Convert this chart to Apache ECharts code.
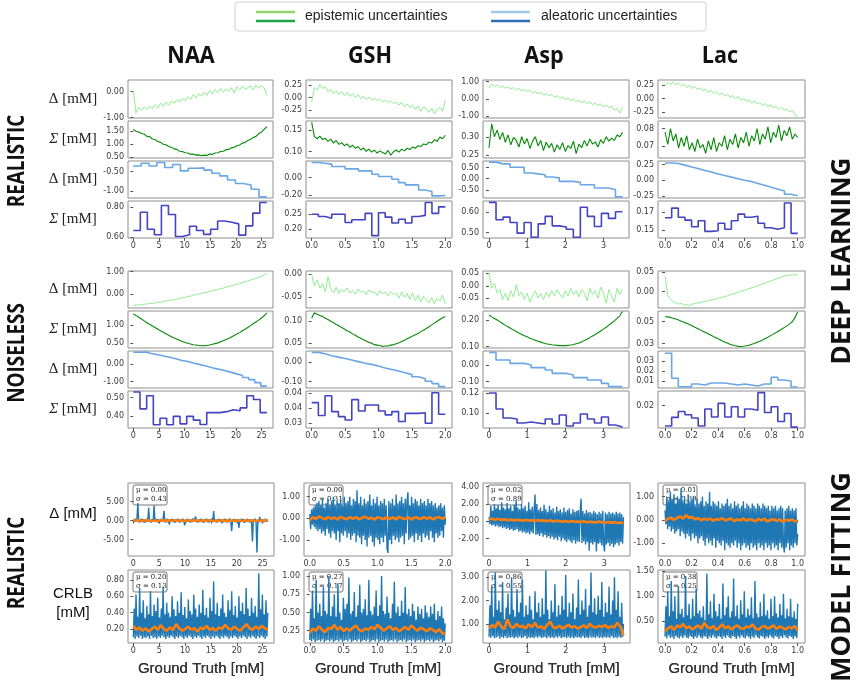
<!DOCTYPE html>
<html>
<head>
<meta charset="utf-8">
<script src="https://cdn.jsdelivr.net/npm/echarts@6/dist/echarts.min.js"></script>
<style>
html,body{margin:0;padding:0;background:#fff}
#chart{width:858px;height:687px}
</style>
</head>
<body>
<div id="chart"></div>
<script>
// ---- data ----
const metabolites = ['NAA', 'GSH', 'Asp', 'Lac'];
const gtMax = [26, 2, 3.5, 1];
const naaXTicks = [0, 5, 10, 15, 20, 25];
const gshXTicks = [0, 0.5, 1, 1.5, 2];
const aspXTicks = [0, 1, 2, 3];
const lacXTicks = [0, 0.2, 0.4, 0.6, 0.8, 1];

// deep learning, realistic
const naaRealEpiMean = [0.05,-0.82,-0.60,-0.72,-0.58,-0.68,-0.55,-0.66,-0.50,-0.62,-0.45,-0.56,-0.40,-0.52,-0.36,-0.45,-0.30,-0.40,-0.26,-0.35,-0.20,-0.30,-0.12,-0.25,-0.08,-0.18,-0.02,-0.15,0.05,-0.10,0.08,-0.05,0.12,-0.02,0.10,0.02,0.15,-0.06,0.18,0.05,0.20,0.08,0.14,0.22,0.05,0.25,0.12,0.22,0.15,-0.15];
const naaRealEpiStd = [1.55,1.49,1.46,1.40,1.37,1.29,1.28,1.19,1.17,1.09,1.06,0.99,0.97,0.90,0.87,0.81,0.79,0.72,0.71,0.66,0.65,0.60,0.61,0.57,0.58,0.55,0.57,0.56,0.61,0.60,0.65,0.66,0.71,0.72,0.78,0.79,0.85,0.87,0.93,0.96,1.03,1.06,1.13,1.17,1.25,1.29,1.39,1.45,1.56,1.66];
const naaRealAleMean = [-0.35,-0.28,-0.35,-0.26,-0.39,-0.31,-0.48,-0.41,-0.40,-0.46,-0.54,-0.61,-0.72,-0.81,-0.85,-0.96,-1.16];
const naaRealAleStd = [0.645,0.766,0.654,0.617,0.81,0.751,0.606,0.617,0.673,0.645,0.62,0.654,0.708,0.70,0.689,0.615,0.676,0.76,0.83];

const gshRealEpiMean = [-0.09,0.20,0.15,0.26,0.18,0.22,0.12,0.16,0.08,0.14,0.06,0.12,0.04,0.10,0.02,0.08,0.00,0.06,-0.02,0.03,-0.04,0.01,-0.05,-0.02,-0.06,-0.03,-0.09,-0.05,-0.10,-0.07,-0.12,-0.09,-0.15,-0.10,-0.18,-0.13,-0.20,-0.15,-0.24,-0.17,-0.28,-0.19,-0.22,-0.30,-0.21,-0.33,-0.24,-0.20,-0.28,-0.05];
const gshRealEpiStd = [0.168,0.135,0.130,0.136,0.128,0.131,0.124,0.129,0.120,0.126,0.117,0.121,0.114,0.118,0.110,0.115,0.108,0.112,0.104,0.109,0.101,0.106,0.099,0.104,0.097,0.102,0.098,0.095,0.103,0.092,0.100,0.104,0.099,0.106,0.102,0.108,0.105,0.111,0.108,0.114,0.112,0.118,0.116,0.122,0.120,0.128,0.124,0.134,0.130,0.138];
const gshRealAleMean = [0.173,0.165,0.154,0.127,0.127,0.10,0.10,0.077,0.077,0.039,0.012,0.012,-0.019,-0.058,-0.084,-0.084,-0.142,-0.16,-0.21,-0.205];
const gshRealAleStd = [0.25,0.242,0.236,0.25,0.25,0.222,0.231,0.231,0.253,0.177,0.255,0.24,0.22,0.233,0.22,0.242,0.246,0.29,0.253,0.275];

const aspRealEpiMean = [0.62,0.85,0.72,0.80,0.66,0.74,0.62,0.70,0.58,0.66,0.52,0.60,0.47,0.55,0.43,0.50,0.35,0.42,0.30,0.38,0.22,0.31,0.18,0.26,0.10,0.18,0.04,0.12,-0.06,0.05,-0.10,-0.02,-0.16,-0.08,-0.22,-0.12,-0.28,-0.18,-0.34,-0.25,-0.38,-0.30,-0.45,-0.36,-0.52,-0.42,-0.65,-0.55,-0.83,-0.50];
const aspRealEpiStd = [0.270,0.335,0.300,0.318,0.292,0.312,0.285,0.305,0.278,0.298,0.290,0.272,0.300,0.280,0.295,0.268,0.288,0.300,0.275,0.290,0.262,0.285,0.270,0.282,0.258,0.278,0.265,0.284,0.260,0.276,0.268,0.288,0.254,0.280,0.270,0.290,0.275,0.294,0.280,0.286,0.272,0.292,0.282,0.300,0.288,0.296,0.290,0.305,0.300,0.312];
const aspRealAleMean = [0.75,0.67,0.67,0.52,0.52,0.26,0.22,0.18,0.08,0.04,-0.12,-0.12,-0.16,-0.27,-0.27,-0.42,-0.42,-0.50,-0.82];
const aspRealAleStd = [0.649,0.563,0.576,0.55,0.497,0.55,0.477,0.543,0.58,0.533,0.527,0.516,0.477,0.625,0.58,0.53,0.595,0.57,0.603];

const lacRealEpiMean = [0.25,0.30,0.27,0.31,0.26,0.29,0.24,0.27,0.21,0.25,0.19,0.23,0.17,0.20,0.15,0.18,0.12,0.16,0.10,0.13,0.07,0.11,0.05,0.08,0.03,0.06,0.00,0.04,-0.03,0.01,-0.05,-0.02,-0.08,-0.04,-0.10,-0.07,-0.13,-0.09,-0.15,-0.11,-0.17,-0.14,-0.20,-0.16,-0.22,-0.19,-0.25,-0.22,-0.30,-0.32];
const lacRealEpiStd = [0.078,0.071,0.080,0.073,0.077,0.069,0.075,0.070,0.076,0.068,0.072,0.067,0.074,0.069,0.071,0.066,0.073,0.068,0.075,0.067,0.072,0.070,0.076,0.068,0.074,0.071,0.077,0.069,0.075,0.072,0.078,0.070,0.076,0.073,0.080,0.071,0.077,0.074,0.081,0.072,0.078,0.075,0.082,0.073,0.079,0.076,0.081,0.074,0.077,0.075];
const lacRealAleMean = [0.274,0.265,0.24,0.21,0.185,0.155,0.13,0.10,0.075,0.05,0.025,0.0,-0.02,-0.05,-0.08,-0.11,-0.14,-0.17,-0.22,-0.245];
const lacRealAleStd = [0.1638,0.1749,0.1645,0.1611,0.1535,0.1604,0.1483,0.149,0.1576,0.1507,0.1604,0.168,0.1645,0.1655,0.1576,0.1525,0.1507,0.1525,0.1807,0.146];

// deep learning, noiseless
const naaNoiseEpiMean = [-0.52,-0.50,-0.49,-0.47,-0.46,-0.45,-0.42,-0.43,-0.40,-0.37,-0.36,-0.35,-0.31,-0.30,-0.27,-0.26,-0.22,-0.21,-0.16,-0.15,-0.11,-0.10,-0.05,-0.03,0.00,0.02,0.06,0.07,0.12,0.14,0.17,0.20,0.24,0.26,0.31,0.33,0.37,0.40,0.44,0.46,0.51,0.55,0.58,0.62,0.66,0.71,0.74,0.80,0.85,0.92];
const naaNoiseEpiStd = [1.30,1.26,1.21,1.16,1.11,1.06,1.02,0.97,0.93,0.88,0.84,0.80,0.76,0.72,0.68,0.64,0.61,0.58,0.55,0.52,0.50,0.48,0.46,0.45,0.44,0.43,0.43,0.44,0.45,0.47,0.49,0.51,0.54,0.57,0.60,0.63,0.67,0.71,0.75,0.79,0.84,0.88,0.93,0.98,1.03,1.08,1.13,1.19,1.25,1.33];
const naaNoiseAleMean = [0.69,0.70,0.62,0.55,0.47,0.40,0.32,0.22,0.16,0.06,-0.02,-0.10,-0.20,-0.28,-0.36,-0.45,-0.55,-0.64,-0.76,-0.88,-1.05,-1.25];
const naaNoiseAleStd = [0.53,0.44,0.51,0.355,0.39,0.355,0.40,0.36,0.40,0.38,0.357,0.42,0.42,0.425,0.435,0.43,0.445,0.51,0.49,0.42];

const gshNoiseEpiMean = [0.000,-0.025,-0.012,-0.030,-0.020,-0.038,-0.005,-0.032,-0.040,-0.028,-0.042,-0.033,-0.038,-0.030,-0.041,-0.035,-0.043,-0.032,-0.039,-0.036,-0.044,-0.034,-0.040,-0.038,-0.046,-0.036,-0.042,-0.039,-0.047,-0.037,-0.044,-0.041,-0.052,-0.038,-0.050,-0.042,-0.055,-0.040,-0.057,-0.045,-0.060,-0.048,-0.055,-0.062,-0.050,-0.064,-0.052,-0.058,-0.045,-0.065];
const gshNoiseEpiStd = [0.106,0.118,0.115,0.112,0.110,0.106,0.103,0.099,0.096,0.092,0.089,0.085,0.082,0.078,0.075,0.071,0.068,0.064,0.061,0.058,0.055,0.052,0.050,0.047,0.046,0.045,0.043,0.044,0.044,0.046,0.047,0.049,0.051,0.054,0.057,0.060,0.063,0.066,0.069,0.072,0.076,0.079,0.083,0.087,0.091,0.095,0.099,0.103,0.107,0.110];
const gshNoiseAleMean = [0.049,0.042,0.032,0.025,0.018,0.010,0.002,-0.006,-0.012,-0.020,-0.030,-0.038,-0.046,-0.055,-0.064,-0.075,-0.085,-0.098,-0.110,-0.125];
const gshNoiseAleStd = [0.0369,0.0326,0.0392,0.0339,0.0322,0.0311,0.0379,0.0341,0.0361,0.0361,0.0341,0.0328,0.0339,0.0306,0.0333,0.0333,0.0335,0.0300,0.0402,0.033];

const aspNoiseEpiMean = [0.050,-0.010,0.010,-0.030,-0.015,-0.055,-0.030,-0.060,-0.020,-0.045,0.005,-0.040,-0.025,-0.055,-0.030,-0.065,-0.040,-0.020,-0.050,-0.030,-0.055,-0.025,-0.045,-0.020,-0.040,-0.015,-0.035,-0.050,-0.020,-0.040,-0.010,-0.035,-0.020,-0.045,-0.015,-0.030,-0.060,-0.010,-0.035,-0.020,-0.050,-0.005,-0.030,-0.070,-0.015,-0.040,-0.065,-0.010,-0.035,-0.015];
const aspNoiseEpiStd = [0.219,0.212,0.206,0.200,0.194,0.187,0.180,0.175,0.168,0.163,0.157,0.151,0.146,0.141,0.137,0.132,0.128,0.124,0.120,0.117,0.114,0.111,0.109,0.107,0.106,0.105,0.104,0.104,0.104,0.105,0.106,0.108,0.111,0.114,0.118,0.123,0.128,0.134,0.140,0.146,0.152,0.159,0.166,0.173,0.181,0.189,0.197,0.206,0.216,0.232];
const aspNoiseAleMean = [0.076,0.03,0.03,0.01,0.01,0.0,-0.016,-0.016,-0.03,-0.05,-0.05,-0.06,-0.076,-0.076,-0.09,-0.09,-0.11,-0.13,-0.13];
const aspNoiseAleStd = [0.12,0.104,0.095,0.094,0.09,0.091,0.09,0.089,0.094,0.089,0.098,0.087,0.09,0.099,0.094,0.09,0.096,0.088,0.086];

const lacNoiseEpiMean = [0.040,-0.010,-0.020,-0.026,-0.028,-0.032,-0.030,-0.035,-0.033,-0.036,-0.032,-0.031,-0.029,-0.028,-0.026,-0.025,-0.023,-0.022,-0.020,-0.018,-0.016,-0.015,-0.013,-0.011,-0.008,-0.006,-0.004,-0.002,0.001,0.003,0.005,0.008,0.010,0.012,0.015,0.017,0.020,0.022,0.025,0.027,0.030,0.032,0.035,0.038,0.040,0.042,0.041,0.044,0.042,0.045];
const lacNoiseEpiStd = [0.0546,0.0545,0.0540,0.0532,0.0525,0.0515,0.0505,0.0495,0.0485,0.0474,0.0462,0.0450,0.0438,0.0425,0.0412,0.0400,0.0388,0.0375,0.0362,0.0350,0.0338,0.0325,0.0314,0.0303,0.0293,0.0285,0.0278,0.0273,0.0272,0.0274,0.0278,0.0284,0.0292,0.0300,0.0310,0.0320,0.0332,0.0345,0.0358,0.0372,0.0386,0.0400,0.0415,0.0430,0.0446,0.0462,0.0480,0.0500,0.0540,0.0590];
const lacNoiseAleMean = [0.0377,0.0127,0.0043,0.0043,0.007,0.006,0.008,0.008,0.008,0.007,0.006,0.007,0.006,0.005,0.007,0.007,0.0137,0.011,0.010,0.004];
const lacNoiseAleStd = [0.011,0.0148,0.0174,0.016,0.0145,0.011,0.0185,0.015,0.021,0.015,0.0195,0.015,0.0185,0.018,0.0258,0.017,0.0195,0.013,0.0165,0.0105];

// model fitting, realistic
const naaFitErr = [
    0.3,-0.4,0.5,-0.3,0.4,4.6,-0.5,0.3,-0.4,0.5, -0.3,0.4,-0.6,0.3,-0.4,0.5,-0.3,3.4,-0.4,0.3,
    -0.5,0.4,-0.3,4.0,-0.4,0.5,-0.3,0.4,-0.6,0.3, -0.4,0.5,-0.3,0.4,2.6,-0.5,0.3,-0.4,0.5,-0.3,
    -1.0,0.4,-0.3,0.5,-0.4,0.3,-0.6,0.4,-0.3,0.5, -0.4,0.3,-0.5,0.4,-0.3,0.5,-0.4,-1.2,0.3,-0.4,
    0.5,-0.3,0.4,-0.5,0.3,-0.4,0.6,-0.3,0.4,1.1, -0.4,0.3,-0.5,0.4,-0.3,0.5,-0.4,0.3,-0.6,0.4,
    -0.3,0.5,-0.4,0.3,-0.5,0.4,-0.3,0.6,-0.4,2.5, -0.3,0.4,-0.5,0.3,-0.4,0.5,-0.3,0.4,-0.7,0.3,
    -0.4,0.5,-0.3,0.4,-0.5,0.3,-0.4,0.6,-0.3,-2.8, 0.4,-0.3,0.5,-0.4,0.3,-0.5,0.4,-1.9,0.3,-0.4,
    0.5,-0.3,0.4,-0.6,0.3,-0.4,0.5,-0.3,0.4,-0.5, 0.3,-0.4,-5.5,0.4,-0.3,0.5,-0.4,-8.4,0.3,-0.5,
    1.0,-0.3,0.4,-0.5,0.3,-0.4,0.5,-0.3,0.4,-0.3];
const naaFitErrAvg = [0.1,-0.05,0.08,-0.1,0.05,0.12,-0.08,0.02,-0.12,0.1,0.04,-0.06,0.09,-0.03,0.11,-0.09,0.05,-0.04,0.12,-0.07,0.03,0.08,-0.11,0.06,-0.02,0.1,-0.08,0.04,-0.05,0.09,-0.1,0.07,-0.03,0.11,-0.06,0.02,-0.09,0.08,-0.04,0.1,-0.07,0.05,-0.02,0.09,0.0];
const naaFitCrlb = [
    0.10,0.45,0.08,0.62,0.11,0.35,0.09,0.70,0.12,0.40, 0.08,0.55,0.10,0.33,0.09,0.48,0.11,0.38,0.08,0.66,
    0.12,0.36,0.09,0.50,0.10,0.42,0.08,0.58,0.11,0.34, 0.09,0.45,0.12,0.72,0.10,0.38,0.08,0.52,0.11,0.40,
    0.09,0.35,0.12,0.60,0.10,0.44,0.08,0.36,0.11,0.54, 0.09,0.40,0.12,0.65,0.10,0.37,0.08,0.47,0.11,0.33,
    0.09,0.56,0.12,0.42,0.10,0.38,0.08,0.62,0.11,0.45, 0.09,0.35,0.12,0.50,0.10,0.40,0.08,0.68,0.11,0.37,
    0.09,0.46,0.12,0.34,0.10,0.58,0.08,0.42,0.11,0.78, 0.09,0.38,0.12,0.52,0.10,0.36,0.08,0.45,0.11,0.62,
    0.09,0.40,0.12,0.35,0.10,0.55,0.08,0.43,0.11,0.66, 0.09,0.37,0.12,0.48,0.10,0.34,0.08,0.60,0.11,0.42,
    0.09,0.52,0.12,0.38,0.10,0.70,0.08,0.45,0.11,0.36, 0.09,0.58,0.12,0.40,0.10,0.48,0.08,0.35,0.11,0.88,
    0.09,0.44,0.12,0.62,0.10,0.38,0.08,0.55,0.11,0.40];
const naaFitCrlbAvg = [0.24,0.19,0.22,0.18,0.21,0.17,0.20,0.23,0.19,0.25,0.20,0.18,0.22,0.19,0.26,0.21,0.18,0.20,0.23,0.19,0.21,0.17,0.22,0.20,0.24,0.19,0.21,0.18,0.22,0.20,0.25,0.21,0.19,0.23,0.20,0.18,0.22,0.26,0.21,0.19,0.23,0.20,0.24,0.21,0.19];

const gshFitErr = [
    0.2,-0.5,0.4,-0.3,0.5,-0.4,0.6,-0.5,0.7,-0.6, 0.8,-0.5,0.6,-0.7,0.9,-0.6,0.5,-0.8,0.7,-0.5,
    0.9,-0.7,0.6,-0.9,0.8,-0.6,1.0,-0.7,0.6,-1.0, 0.8,-0.6,0.7,-1.1,0.9,-0.7,0.6,-0.8,1.0,-0.6,
    0.7,-0.9,0.8,-0.7,1.0,-1.0,0.6,-0.8,0.9,-0.7, 0.8,-1.1,1.3,-0.8,0.7,-0.9,1.0,-1.2,0.6,-0.8,
    0.9,-1.0,0.7,-1.3,0.8,-0.9,1.1,-0.8,0.6,-1.1, 0.9,-1.3,0.7,-0.9,1.0,-1.0,0.6,-1.2,0.8,-0.9,
    0.7,-1.1,0.9,-0.8,0.6,-1.4,-1.6,0.8,-1.0,0.7, -1.2,0.9,-0.8,0.6,-1.0,1.1,-0.9,0.7,-1.1,0.8,
    -0.9,1.0,-0.8,0.7,-1.2,0.9,-0.7,0.8,1.2,-1.0, 0.6,-0.9,1.0,-0.8,0.7,-1.1,0.9,-0.7,0.8,-1.0,
    0.6,-0.8,0.9,-1.1,0.7,-0.7,0.8,-0.9,0.6,-0.8, 0.9,-1.0,0.7,-0.6,0.8,-0.9,0.6,-1.1,0.7,-0.7,
    0.5,-0.9,0.6,-0.8,0.7,-0.6,0.5,-0.9,0.6,-0.3];
const gshFitErrAvg = [-0.1,0.05,-0.03,0.08,0.02,-0.05,0.06,-0.02,0.04,-0.06,0.07,0.0,-0.04,0.05,-0.03,0.06,-0.05,0.02,0.08,-0.02,0.03,-0.06,0.05,0.01,-0.04,0.06,-0.03,0.04,-0.05,0.07,0.0,-0.03,0.05,-0.06,0.04,0.02,-0.04,0.06,-0.02,0.05,-0.05,0.03,0.06,-0.02,0.04];
const gshFitCrlb = [
    0.12,0.55,0.10,0.80,0.13,0.42,0.09,0.95,0.11,0.50, 0.12,0.62,0.10,0.45,0.13,0.85,0.09,0.52,0.11,0.48,
    0.12,1.00,0.10,0.45,0.13,0.58,0.09,0.75,0.11,0.44, 0.12,0.90,0.10,0.50,0.13,0.40,0.09,0.70,0.11,0.55,
    0.12,0.62,0.10,0.98,0.13,0.48,0.09,0.52,0.11,0.78, 0.12,0.44,0.10,0.60,0.13,0.88,0.09,0.50,0.11,0.55,
    0.12,0.68,0.10,0.46,0.13,0.95,0.09,0.52,0.11,0.47, 0.12,0.58,0.10,0.80,0.13,0.45,0.09,0.60,0.11,1.00,
    0.12,0.52,0.10,0.48,0.13,0.72,0.09,0.50,0.11,0.42, 0.12,0.62,0.10,0.92,0.13,0.50,0.09,0.58,0.11,0.45,
    0.12,0.66,0.10,0.50,0.13,0.85,0.09,0.48,0.11,0.55, 0.12,0.45,0.10,0.62,0.13,0.52,0.09,0.40,0.11,0.58,
    0.12,0.48,0.10,0.55,0.13,0.42,0.09,0.60,0.11,0.50, 0.12,0.44,0.10,0.58,0.13,0.48,0.09,0.62,0.11,0.40,
    0.12,0.52,0.10,0.45,0.13,0.58,0.09,0.42,0.11,0.35];
const gshFitCrlbAvg = [0.22,0.28,0.25,0.31,0.26,0.23,0.29,0.27,0.33,0.26,0.30,0.24,0.28,0.25,0.29,0.32,0.26,0.24,0.28,0.26,0.30,0.27,0.33,0.29,0.25,0.28,0.31,0.26,0.29,0.24,0.27,0.30,0.26,0.32,0.28,0.25,0.29,0.27,0.24,0.28,0.26,0.23,0.27,0.22,0.20];

const aspFitErr = [
    0.5,-0.3,1.8,-0.5,1.2,-0.4,2.0,-0.6,1.5,-0.5, 1.9,-0.7,1.3,-0.6,2.2,-0.8,1.6,-0.7,1.4,-0.9,
    2.1,-0.8,1.5,-1.0,1.8,-0.9,1.2,-1.1,1.9,-1.0, 2.4,-0.9,1.6,-1.2,1.4,-1.1,2.0,-1.3,1.5,-1.2,
    1.8,-1.4,1.2,-1.3,2.2,-1.5,1.4,-1.2,1.7,-1.4, 1.1,3.1,-1.6,2.0,-1.5,1.3,-1.7,1.6,-1.4,1.2,
    -1.8,1.9,-1.6,1.4,-1.9,1.1,-1.7,1.8,-2.0,1.3, -1.8,1.5,-2.1,1.0,-1.9,1.7,-2.2,1.2,-1.8,1.4,
    -2.3,1.0,-2.0,1.6,-2.2,1.1,-2.4,1.3,-2.1,1.5, -2.3,0.9,-2.5,1.4,-2.2,1.1,-2.6,1.2,-2.3,1.3,
    -2.4,1.0,2.6,-2.5,1.2,-2.3,0.9,-2.7,1.3,-2.4, 1.0,-3.4,1.1,-2.5,0.9,-2.7,1.2,-2.4,1.0,-3.5,
    0.8,-2.6,1.1,-2.5,0.9,-2.8,1.2,-2.6,-3.5,1.0, -2.7,0.8,-2.5,1.1,-2.9,0.9,-2.6,1.0,-3.0,0.8,
    -2.7,1.1,-2.5,0.9,-2.8,1.0,-2.4,0.8,-2.6,0.5];
const aspFitErrAvg = [0.25,0.30,0.18,0.28,0.15,0.22,0.12,0.20,0.10,0.18,0.15,0.05,0.16,0.08,0.12,0.03,0.14,0.05,0.10,0.0,0.12,-0.02,0.06,0.02,-0.05,0.04,-0.08,0.02,-0.06,-0.02,-0.10,0.0,-0.12,-0.05,-0.08,-0.14,-0.04,-0.12,-0.16,-0.08,-0.18,-0.10,-0.20,-0.15,-0.22];
const aspFitCrlb = [
    0.45,1.8,0.40,2.6,0.48,1.3,0.38,3.2,0.42,1.6, 0.46,2.0,0.36,1.5,0.44,2.8,0.40,1.2,0.47,1.7,
    0.38,2.3,0.43,1.4,0.41,3.0,0.45,1.6,0.37,1.3, 0.44,2.5,0.40,1.5,0.46,1.9,0.39,2.9,0.42,1.3,
    0.48,1.8,0.36,1.4,0.44,2.2,0.40,1.6,0.43,1.2, 0.38,2.4,0.45,1.5,0.41,1.9,0.47,1.3,0.39,2.1,
    0.42,1.4,0.44,3.3,0.37,1.6,0.46,1.2,0.40,2.0, 0.43,1.5,0.38,2.7,0.45,1.3,0.41,1.8,0.47,1.4,
    0.39,2.2,0.42,1.6,0.44,3.1,0.37,1.3,0.46,1.9, 0.40,1.5,0.43,2.3,0.38,1.2,0.45,1.7,0.41,2.9,
    0.44,1.4,0.39,2.0,0.47,1.6,0.40,2.5,0.43,1.3, 0.38,1.8,0.45,3.2,0.41,1.5,0.44,2.1,0.39,1.4,
    0.47,2.2,0.40,1.6,0.43,2.8,0.38,1.3,0.45,1.9, 0.41,1.5,0.44,2.6,0.39,1.4,0.47,2.0,0.40,3.0,
    0.43,1.6,0.38,2.4,0.45,1.3,0.41,1.9,0.44,1.0];
const aspFitCrlbAvg = [0.80,0.95,0.85,1.10,0.88,0.78,1.20,0.90,0.82,1.00,0.86,0.92,0.80,0.98,0.85,1.05,0.84,0.90,0.78,0.95,1.10,0.86,0.82,0.92,0.80,0.88,0.96,0.84,0.90,0.80,0.86,0.94,0.82,1.00,0.88,0.84,0.92,0.86,0.95,0.82,0.90,0.85,1.05,0.88,0.50];

const lacFitErr = [
    0.4,-0.2,1.0,-0.4,0.8,-0.3,1.2,-0.5,0.9,-0.4, 1.1,-0.6,0.7,-0.5,1.0,-0.4,0.9,-0.7,1.35,-0.5,
    0.8,-0.6,1.0,-0.8,0.7,-0.6,1.1,-0.7,0.8,-0.9, 0.9,-0.6,1.0,-0.8,0.6,-0.7,0.9,-1.0,0.7,-0.8,
    0.8,-0.7,1.0,-0.9,0.6,-1.1,0.8,-0.8,0.7,-1.0, 1.2,-0.9,0.6,-1.1,0.8,-0.8,0.7,-1.2,0.6,-0.9,
    0.8,-1.0,0.5,-1.1,0.7,-0.9,0.6,-1.3,0.7,-1.0, 0.9,-1.1,0.6,-1.2,0.7,-1.0,0.5,-1.1,0.8,-0.9,
    0.6,-1.2,0.7,-1.0,0.5,-1.3,0.6,-1.1,0.8,-1.0, 0.5,-1.2,0.7,-1.1,0.6,-1.3,0.5,-1.0,0.7,-1.2,
    0.6,-1.1,0.5,-1.3,0.7,-1.0,0.6,-1.2,0.5,-1.1, 0.7,-1.3,0.6,-1.0,0.5,-1.2,0.6,-1.1,0.4,-1.3,
    0.6,-1.0,0.5,-1.2,0.6,-1.1,0.4,-1.3,0.5,-1.0, 0.6,-1.2,0.5,-1.1,-1.4,0.4,-1.2,0.5,-1.0,0.6,
    -1.3,0.4,-1.1,0.5,-1.2,0.4,-1.0,0.5,-1.1,-0.6];
const lacFitErrAvg = [-0.05,0.05,0.10,0.0,0.08,0.15,0.05,0.20,0.08,0.12,0.02,0.08,-0.02,0.05,0.0,0.06,-0.04,0.04,0.0,0.07,-0.03,0.03,0.05,-0.05,0.02,-0.02,0.06,-0.04,0.03,0.0,-0.06,0.04,-0.02,0.05,-0.07,0.0,0.03,-0.05,0.02,-0.08,0.0,-0.04,0.02,-0.06,-0.04];
const lacFitCrlb = [
    0.20,0.80,0.16,1.10,0.22,0.60,0.17,1.30,0.19,0.70, 0.15,1.00,0.21,0.55,0.18,1.20,0.16,0.65,0.20,0.75,
    0.17,0.58,0.22,1.40,0.18,0.62,0.16,0.85,0.21,0.55, 0.19,0.95,0.15,0.60,0.20,1.15,0.17,0.66,0.22,0.72,
    0.18,0.58,0.16,0.80,0.21,0.52,0.19,1.45,0.15,0.64, 0.20,0.90,0.17,0.56,0.22,1.05,0.18,0.70,0.16,0.60,
    0.21,0.85,0.19,0.55,0.15,1.25,0.20,0.62,0.17,0.78, 0.22,1.00,0.18,0.58,0.16,0.70,0.21,1.35,0.19,0.60,
    0.15,0.82,0.20,0.55,0.17,0.92,0.22,0.64,0.18,1.10, 0.16,0.58,0.21,0.75,0.19,0.62,0.15,0.98,0.20,0.56,
    0.17,1.30,0.22,0.66,0.18,0.58,0.16,0.88,0.21,0.60, 0.19,1.05,0.15,0.62,0.20,0.72,0.17,0.55,0.22,0.95,
    0.18,0.60,0.16,1.00,0.21,0.66,0.19,0.58,0.15,0.85, 0.20,0.62,0.17,1.05,0.22,0.56,0.18,0.75,0.16,0.60,
    0.21,0.95,0.19,0.58,0.15,0.70,0.20,0.55,0.17,0.85];
const lacFitCrlbAvg = [0.30,0.36,0.40,0.33,0.42,0.38,0.45,0.36,0.40,0.34,0.38,0.42,0.35,0.47,0.39,0.36,0.41,0.33,0.38,0.44,0.36,0.40,0.34,0.39,0.42,0.37,0.35,0.40,0.38,0.44,0.36,0.33,0.39,0.41,0.36,0.38,0.42,0.35,0.40,0.37,0.34,0.39,0.36,0.41,0.32];

// mu / sigma shown in the boxes
const fitErrStats = [[0.00, 0.43], [0.00, 0.31], [0.02, 0.89], [0.01, 0.39]];
const fitCrlbStats = [[0.20, 0.13], [0.27, 0.17], [0.86, 0.55], [0.38, 0.25]];

// ---- layout ----
const xTicks = [naaXTicks, gshXTicks, aspXTicks, lacXTicks];
const xDec = [0, 1, 0, 1];
const xRange = [[-1.03, 27.2], [-0.085, 2.1], [-0.157, 3.67], [-0.053, 1.055]];
const colDL = [[128, 273], [306, 452], [483, 629], [658, 805]];
const colMF = [[128, 274], [304, 452], [483, 630], [658, 805]];
const rowsReal = [[80, 118], [121, 158], [161, 198], [201, 238]];
const rowsNoise = [[271, 308], [311, 348], [351, 388], [391, 428]];
const rowsFit = [[483, 556], [570, 643]];

const styles = {
    epiMean: { color: '#90ee90', width: 1, step: false },
    epiStd: { color: '#078a07', width: 1.1, step: false },
    aleMean: { color: '#6aa6e6', width: 1.6, step: true },
    aleStd: { color: '#4444c2', width: 1.6, step: true }
};

// [col, block, row, kind, data, yMin, yMax, yTicks]
const dlPlots = [
    [0,'r',0,'epiMean',naaRealEpiMean,-1.01,0.44,[-1,0]],
    [0,'r',1,'epiStd',naaRealEpiStd,0.46,1.88,[0.5,1,1.5]],
    [0,'r',2,'aleMean',naaRealAleMean,-1.19,-0.22,[-1,-0.5]],
    [0,'r',3,'aleStd',naaRealAleStd,0.596,0.84,[0.6,0.8]],
    [0,'n',0,'epiMean',naaNoiseEpiMean,-0.63,1.03,[0,1]],
    [0,'n',1,'epiStd',naaNoiseEpiStd,0.37,1.38,[0.5,1]],
    [0,'n',2,'aleMean',naaNoiseAleMean,-1.36,0.76,[-1,0]],
    [0,'n',3,'aleStd',naaNoiseAleStd,0.338,0.535,[0.4,0.5]],

    [1,'r',0,'epiMean',gshRealEpiMean,-0.41,0.35,[-0.25,0,0.25]],
    [1,'r',1,'epiStd',gshRealEpiStd,0.0855,0.171,[0.1,0.15]],
    [1,'r',2,'aleMean',gshRealAleMean,-0.234,0.19,[-0.2,0]],
    [1,'r',3,'aleStd',gshRealAleStd,0.169,0.295,[0.2,0.25]],
    [1,'n',0,'epiMean',gshNoiseEpiMean,-0.073,0.007,[-0.05,0]],
    [1,'n',1,'epiStd',gshNoiseEpiStd,0.0395,0.122,[0.05,0.1]],
    [1,'n',2,'aleMean',gshNoiseAleMean,-0.132,0.056,[-0.1,0]],
    [1,'n',3,'aleStd',gshNoiseAleStd,0.0284,0.0408,[0.03,0.035,0.04]],

    [2,'r',0,'epiMean',aspRealEpiMean,-1.12,1.10,[-1,0,1]],
    [2,'r',1,'epiStd',aspRealEpiStd,0.242,0.343,[0.25,0.3]],
    [2,'r',2,'aleMean',aspRealAleMean,-0.87,0.80,[-0.5,0,0.5]],
    [2,'r',3,'aleStd',aspRealAleStd,0.473,0.656,[0.5,0.6]],
    [2,'n',0,'epiMean',aspNoiseEpiMean,-0.089,0.059,[-0.05,0,0.05]],
    [2,'n',1,'epiStd',aspNoiseEpiStd,0.095,0.234,[0.1,0.2]],
    [2,'n',2,'aleMean',aspNoiseAleMean,-0.138,0.084,[-0.1,0]],
    [2,'n',3,'aleStd',aspNoiseAleStd,0.085,0.122,[0.1,0.12]],

    [3,'r',0,'epiMean',lacRealEpiMean,-0.36,0.35,[-0.25,0,0.25]],
    [3,'r',1,'epiStd',lacRealEpiStd,0.0633,0.0844,[0.07,0.08]],
    [3,'r',2,'aleMean',lacRealAleMean,-0.28,0.305,[-0.25,0,0.25]],
    [3,'r',3,'aleStd',lacRealAleStd,0.1407,0.183,[0.15,0.17]],
    [3,'n',0,'epiMean',lacNoiseEpiMean,-0.042,0.053,[0,0.05]],
    [3,'n',1,'epiStd',lacNoiseEpiStd,0.0258,0.0599,[0.03,0.05]],
    [3,'n',2,'aleMean',lacNoiseAleMean,0.003,0.040,[0.01,0.02,0.03]],
    [3,'n',3,'aleStd',lacNoiseAleStd,0.0101,0.0265,[0.01,0.02]]
];

// [col, row, blue, orange, yMin, yMax, yTicks, stats]
const fitPlots = [
    [0,0,naaFitErr,naaFitErrAvg,-9.3,9.9,[-5,0,5],fitErrStats[0]],
    [0,1,naaFitCrlb,naaFitCrlbAvg,0.03,0.92,[0.2,0.4,0.6,0.8],fitCrlbStats[0]],
    [1,0,gshFitErr,gshFitErrAvg,-1.74,1.63,[-1,0,1],fitErrStats[1]],
    [1,1,gshFitCrlb,gshFitCrlbAvg,0.08,1.083,[0.25,0.5,0.75,1],fitCrlbStats[1]],
    [2,0,aspFitErr,aspFitErrAvg,-4.02,4.43,[-2,0,2,4],fitErrStats[2]],
    [2,1,aspFitCrlb,aspFitCrlbAvg,0.18,3.31,[1,2,3],fitCrlbStats[2]],
    [3,0,lacFitErr,lacFitErrAvg,-1.55,1.58,[-1,0,1],fitErrStats[3]],
    [3,1,lacFitCrlb,lacFitCrlbAvg,0.07,1.52,[0.5,1,1.5],fitCrlbStats[3]]
];

const grids = [], xAxes = [], yAxes = [], series = [], graphics = [];
const tickFont = { fontSize: 8, color: '#3a3a3a', fontFamily: 'DejaVu Sans' };

function lineData(vals, xMax) {
    const n = vals.length;
    return vals.map((v, i) => [i * xMax / (n - 1), v]);
}
function stepData(vals, xMax) {
    const n = vals.length;
    const d = vals.map((v, i) => [i * xMax / n, v]);
    d.push([xMax, vals[n - 1]]);
    return d;
}

function addGrid(col, xs, ys, yMin, yMax, yTicks, showX) {
    const idx = grids.length;
    grids.push({
        left: xs[0], top: ys[0], width: xs[1] - xs[0], height: ys[1] - ys[0],
        show: true, borderColor: '#8e8e8e', borderWidth: 1, backgroundColor: '#fff'
    });
    xAxes.push({
        type: 'value', gridIndex: idx, min: xRange[col][0], max: xRange[col][1],
        axisLine: { show: false }, splitLine: { show: false },
        axisTick: { show: showX, length: 3, lineStyle: { color: '#555' }, customValues: xTicks[col] },
        axisLabel: Object.assign({ show: showX, margin: 4, customValues: xTicks[col],
            formatter: v => v.toFixed(xDec[col]) }, tickFont)
    });
    yAxes.push({
        type: 'value', gridIndex: idx, min: yMin, max: yMax,
        axisLine: { show: false }, splitLine: { show: false },
        axisTick: { show: true, length: 3, lineStyle: { color: '#555' }, customValues: yTicks },
        axisLabel: Object.assign({ margin: 4, customValues: yTicks,
            formatter: v => v.toFixed(2) }, tickFont)
    });
    return idx;
}

dlPlots.forEach(p => {
    const [col, block, row, kind, vals, yMin, yMax, yTicks] = p;
    const ys = (block === 'r' ? rowsReal : rowsNoise)[row];
    const idx = addGrid(col, colDL[col], ys, yMin, yMax, yTicks, row === 3);
    const st = styles[kind];
    series.push({
        type: 'line', xAxisIndex: idx, yAxisIndex: idx, showSymbol: false, symbol: 'none',
        step: st.step ? 'end' : false, silent: true,
        data: st.step ? stepData(vals, gtMax[col]) : lineData(vals, gtMax[col]),
        lineStyle: { color: st.color, width: st.width }
    });
});

fitPlots.forEach(p => {
    const [col, row, blue, orange, yMin, yMax, yTicks, stats] = p;
    const xs = colMF[col], ys = rowsFit[row];
    const idx = addGrid(col, xs, ys, yMin, yMax, yTicks, true);
    series.push({
        type: 'line', xAxisIndex: idx, yAxisIndex: idx, showSymbol: false, symbol: 'none', silent: true,
        data: lineData(blue, gtMax[col]), lineStyle: { color: '#1f77b4', width: 1.4 }
    });
    series.push({
        type: 'line', xAxisIndex: idx, yAxisIndex: idx, showSymbol: false, symbol: 'none', silent: true,
        data: lineData(orange, gtMax[col]), lineStyle: { color: '#ff7f0e', width: 2.6 }
    });
    graphics.push({
        type: 'group', x: xs[0] + 5, y: ys[0] + 2, z: 50,
        children: [
            { type: 'rect', shape: { x: 0, y: 0, width: 34, height: 20, r: 2 },
              style: { fill: '#fff', stroke: '#777', lineWidth: 1 } },
            { type: 'text', x: 3, y: 5.5, style: { text: 'μ = ' + stats[0].toFixed(2), fontSize: 7,
              fontFamily: 'DejaVu Serif', fill: '#222', verticalAlign: 'middle', textVerticalAlign: 'middle' } },
            { type: 'text', x: 3, y: 14.5, style: { text: 'σ = ' + stats[1].toFixed(2), fontSize: 7,
              fontFamily: 'DejaVu Serif', fill: '#222', verticalAlign: 'middle', textVerticalAlign: 'middle' } }
        ]
    });
    graphics.push({
        type: 'text', x: (xs[0] + xs[1]) / 2, y: 669, z: 50,
        style: { text: 'Ground Truth [mM]', fontSize: 15, fontFamily: 'Liberation Sans', fill: '#333',
                 align: 'center', verticalAlign: 'middle', textAlign: 'center', textVerticalAlign: 'middle' }
    });
});

function centerText(txt, x, y, font, extra) {
    return Object.assign({
        type: 'text', x: x, y: y, z: 50,
        style: { text: txt, font: font, fill: '#111', align: 'center', verticalAlign: 'middle',
                 textAlign: 'center', textVerticalAlign: 'middle' }
    }, extra || {});
}

// column titles
const titleX = [191, 370, 544, 720];
metabolites.forEach((m, i) => {
    graphics.push(centerText(m, titleX[i], 56, 'bold 24px "Open Sans"', { scaleX: 0.9 }));
});

// block labels
graphics.push(centerText('REALISTIC', 17, 161, 'bold 23px "Open Sans"', { rotation: Math.PI / 2, scaleX: 0.82 }));
graphics.push(centerText('NOISELESS', 17, 353, 'bold 23px "Open Sans"', { rotation: Math.PI / 2, scaleX: 0.82 }));
graphics.push(centerText('REALISTIC', 17, 563, 'bold 23px "Open Sans"', { rotation: Math.PI / 2, scaleX: 0.82 }));
graphics.push(centerText('DEEP LEARNING', 842, 261, 'bold 27px "Open Sans"', { rotation: Math.PI / 2, scaleX: 0.97 }));
graphics.push(centerText('MODEL FITTING', 842, 577, 'bold 27px "Open Sans"', { rotation: Math.PI / 2, scaleX: 1.0 }));

// y labels of the first column
const dlLabels = ['Δ', 'Σ', 'Δ', 'Σ'];
[rowsReal, rowsNoise].forEach(rows => {
    rows.forEach((r, i) => {
        const sym = dlLabels[i] === 'Σ' ? '{i|Σ} [mM]' : 'Δ [mM]';
        graphics.push({
            type: 'text', x: 73, y: (r[0] + r[1]) / 2, z: 50,
            style: { text: sym, fontSize: 15, fontFamily: 'Liberation Serif', fill: '#222',
                     align: 'center', verticalAlign: 'middle', textAlign: 'center', textVerticalAlign: 'middle',
                     rich: { i: { fontStyle: 'italic', fontSize: 15, fontFamily: 'Liberation Serif', fill: '#222' } } }
        });
    });
});
graphics.push(centerText('Δ [mM]', 73, 514, '15px "Liberation Sans"', {}));
graphics.push(centerText('CRLB', 73, 594, '15px "Liberation Sans"', {}));
graphics.push(centerText('[mM]', 73, 613, '15px "Liberation Sans"', {}));

// legend
graphics.push({ type: 'rect', z: 50, shape: { x: 235, y: 2, width: 471, height: 29, r: 3 },
    style: { fill: '#fff', stroke: '#d0d0d0', lineWidth: 1 } });
const legendLines = [
    [256, 295, 12, '#93d36a'], [256, 295, 21, '#1fa343'],
    [491, 530, 12, '#a7c6ec'], [491, 530, 21, '#2e6db6']
];
legendLines.forEach(l => {
    graphics.push({ type: 'line', z: 51, shape: { x1: l[0], y1: l[2], x2: l[1], y2: l[2] },
        style: { stroke: l[3], lineWidth: 2.5 } });
});
graphics.push({ type: 'text', x: 305, y: 16, z: 51, style: { text: 'epistemic uncertainties', fontSize: 14,
    fontFamily: 'Liberation Sans', fill: '#222', verticalAlign: 'middle', textVerticalAlign: 'middle' } });
graphics.push({ type: 'text', x: 541, y: 16, z: 51, style: { text: 'aleatoric uncertainties', fontSize: 14,
    fontFamily: 'Liberation Sans', fill: '#222', verticalAlign: 'middle', textVerticalAlign: 'middle' } });

const chart = echarts.init(document.getElementById('chart'));
chart.setOption({
    animation: false,
    backgroundColor: '#fff',
    grid: grids,
    xAxis: xAxes,
    yAxis: yAxes,
    series: series,
    graphic: { elements: graphics }
});
</script>
</body>
</html>
